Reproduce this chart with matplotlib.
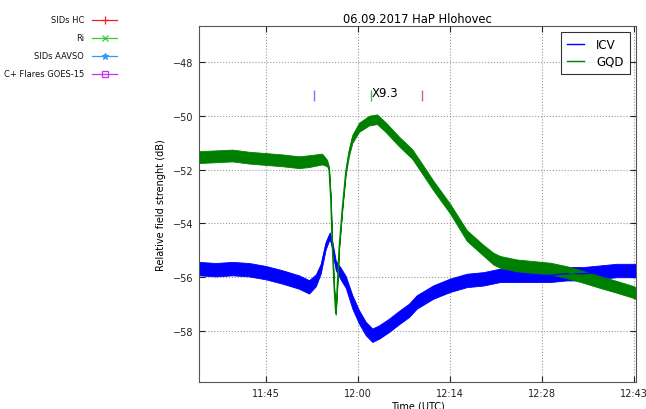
import matplotlib
matplotlib.use("Agg")
import matplotlib.pyplot as plt
from matplotlib.lines import Line2D
from matplotlib import font_manager
import numpy as np

# ---- data (minutes after 11:00 UTC) ----
gqd_t = [35.05, 37.67, 40.27, 42.88, 45.5, 48.1, 50.72, 52.29, 54.32, 55.11, 55.42, 55.69,
         55.89, 56.2, 56.47, 56.72, 56.99, 57.5, 58.04, 58.55, 59.07, 60.12, 61.69, 62.94,
         64.3, 66.39, 68.43, 69.4, 71.76, 74.38, 77.0, 79.6, 81.16, 82.21, 84.83, 87.43,
         90.05, 92.66, 95.27, 97.88, 100.5, 103.1, 103.5]
gqd_v = [-51.53, -51.5, -51.47, -51.55, -51.6, -51.65, -51.72, -51.68, -51.6, -51.75, -51.97, -53.08,
         -54.57, -56.3, -57.36, -56.3, -54.94, -53.45, -52.09, -51.35, -50.85, -50.42, -50.17, -50.12,
         -50.42, -50.95, -51.41, -51.75, -52.59, -53.45, -54.45, -55.0, -55.31, -55.43, -55.56, -55.62,
         -55.68, -55.81, -55.99, -56.18, -56.36, -56.55, -56.6]
gqd_w = [0.22, 0.22, 0.22, 0.22, 0.22, 0.22, 0.22, 0.22, 0.2, 0.12, 0.06, 0.04,
         0.04, 0.04, 0.04, 0.04, 0.04, 0.05, 0.08, 0.12, 0.15, 0.17, 0.18, 0.18,
         0.18, 0.18, 0.18, 0.18, 0.18, 0.18, 0.2, 0.2, 0.22, 0.22, 0.22, 0.22,
         0.22, 0.22, 0.22, 0.22, 0.22, 0.22, 0.22]

icv_t = [35.05, 37.67, 40.27, 42.88, 45.5, 48.1, 50.72, 52.29, 53.34, 54.12, 54.9, 55.53,
         55.94, 56.47, 57.25, 58.04, 59.07, 60.12, 61.17, 62.2, 63.25, 64.82, 66.39, 67.96,
         69.16, 71.76, 74.38, 77.0, 79.6, 82.21, 84.83, 87.43, 90.05, 92.66, 95.27, 97.88,
         100.5, 103.1, 103.5]
icv_v = [-55.68, -55.72, -55.68, -55.72, -55.83, -55.99, -56.18, -56.36, -56.12, -55.68, -54.82, -54.45,
         -54.82, -55.56, -55.87, -56.18, -56.92, -57.48, -57.91, -58.16, -58.04, -57.79, -57.5, -57.23,
         -56.92, -56.55, -56.3, -56.12, -56.06, -55.93, -55.93, -55.93, -55.93, -55.87, -55.87, -55.81,
         -55.75, -55.75, -55.75]
icv_w = [0.25, 0.25, 0.25, 0.25, 0.25, 0.25, 0.25, 0.25, 0.22, 0.18, 0.14, 0.12,
         0.14, 0.18, 0.22, 0.22, 0.25, 0.25, 0.25, 0.25, 0.25, 0.25, 0.25, 0.25,
         0.25, 0.25, 0.25, 0.25, 0.25, 0.25, 0.25, 0.25, 0.25, 0.25, 0.25, 0.25,
         0.25, 0.25, 0.25]

event_t = [53.0, 62.0, 70.0]          # flare start, peak, end
event_colors = ["#5555ff", "#339933", "#dd3333"]
flare_label = "X9.3"

tick_pos = [45.6, 60.0, 74.4, 88.8, 103.2]
tick_lab = ["11:45", "12:00", "12:14", "12:28", "12:43"]

fig_legend_labels = ["SIDs HC", "Ri", "SIDs AAVSO", "C+ Flares GOES-15"]
fig_legend_colors = ["#ee2222", "#33cc33", "#3399ff", "#cc33ee"]
fig_legend_markers = ["+", "x", "*", "s"]

# ---- figure ----
plt.rcParams["font.family"] = ["DejaVu Sans"]
W, H = 646, 410
fig = plt.figure(figsize=(W/100, H/100), dpi=100)
ax = fig.add_axes([199/W, 1-383/H, (636-199)/W, (383-27)/H])

def band(t, v, w, color):
    t = np.array(t); v = np.array(v); w = np.array(w)
    ax.fill_between(t, v - w, v + w, color=color, lw=0.6, edgecolor=color)

band(icv_t, icv_v, icv_w, "#0000ff")
ax.plot(icv_t, icv_v, color="#0000ff", lw=1.0, label="ICV")
band(gqd_t, gqd_v, gqd_w, "#008000")
ax.plot(gqd_t, gqd_v, color="#008000", lw=1.0, label="GQD")

ax.vlines(event_t, -49.05, -49.45, colors=event_colors, lw=1.0, alpha=0.8)
ax.text(event_t[1] + 0.1, -49.27, flare_label, fontsize=8.5, ha="left", va="baseline")

ax.set_xlim(35.05, 103.5)
ax.set_ylim(-59.9, -46.65)
ax.set_xticks(tick_pos)
ax.set_xticklabels(tick_lab)
ax.set_yticks([-58, -56, -54, -52, -50, -48])
ax.set_yticklabels(["\u221258", "\u221256", "\u221254", "\u221252", "\u221250", "\u221248"])
ax.tick_params(direction="in", top=True, right=True, labelsize=7, length=4, pad=4,
               colors="#222222")
for s in ax.spines.values():
    s.set_color("#555555")
ax.grid(True, ls=":", color="#999999", lw=0.8)
ax.set_axisbelow(True)

ax.set_title("06.09.2017 HaP Hlohovec", fontsize=8.3, pad=3)
ax.set_ylabel("Relative field strenght (dB)", fontsize=7, labelpad=5)
ax.set_xlabel("Time (UTC)", fontsize=7, labelpad=2)

leg = ax.legend(loc="upper right", fontsize=8.5, fancybox=False, edgecolor="black",
                handlelength=1.45, borderaxespad=0.5, handletextpad=1.0,
                borderpad=0.55, labelspacing=0.3)
leg.get_frame().set_linewidth(0.8)

# ---- figure-level legend (top left, outside the axes) ----
def pick_font():
    fl = font_manager.fontManager.ttflist
    def ok(f):
        return f.style == "normal" and f.weight in (400, "normal", "regular", "book")
    for f in fl:
        if f.name.lower() == "liberation sans narrow" and ok(f):
            return f.fname
    for f in fl:
        nm = f.name.lower()
        if "sans" in nm and "mono" not in nm and ok(f) and (
                "narrow" in nm or "condensed" in nm or
                str(f.stretch) in ("condensed", "semi-condensed", "extra-condensed")):
            return f.fname
    for f in fl:
        if f.name == "Liberation Sans" and ok(f):
            return f.fname
    return None

cand = pick_font()
fp = font_manager.FontProperties(fname=cand) if cand else font_manager.FontProperties(family="DejaVu Sans")

rows_y = [20.5, 38.5, 56.5, 74.5]
texts = []
for lab, y in zip(fig_legend_labels, rows_y):
    t = fig.text(84/W, 1-y/H, lab, ha="right", va="center", fontproperties=fp.copy(), color="#111111")
    t.set_fontsize(10)
    texts.append(t)
fig.canvas.draw()
r = fig.canvas.get_renderer()
wmax = max(t.get_window_extent(r).width for t in texts)
size = min(8.5, 10 * 80.0 / wmax)
for t in texts:
    t.set_fontsize(size)

for col, mk, y in zip(fig_legend_colors, fig_legend_markers, rows_y):
    yy = 1 - y/H
    fig.add_artist(Line2D([92/W, 117/W], [yy, yy], transform=fig.transFigure, color=col, lw=0.9))
    fig.add_artist(Line2D([104.5/W], [yy], transform=fig.transFigure, color=col, lw=0,
                          marker=mk, markersize=6 if mk == "+" else 4.5 if mk != "s" else 4,
                          markerfacecolor="none" if mk == "s" else col, markeredgecolor=col,
                          markeredgewidth=0.9))

fig.savefig("out.png", dpi=100, facecolor="white")
